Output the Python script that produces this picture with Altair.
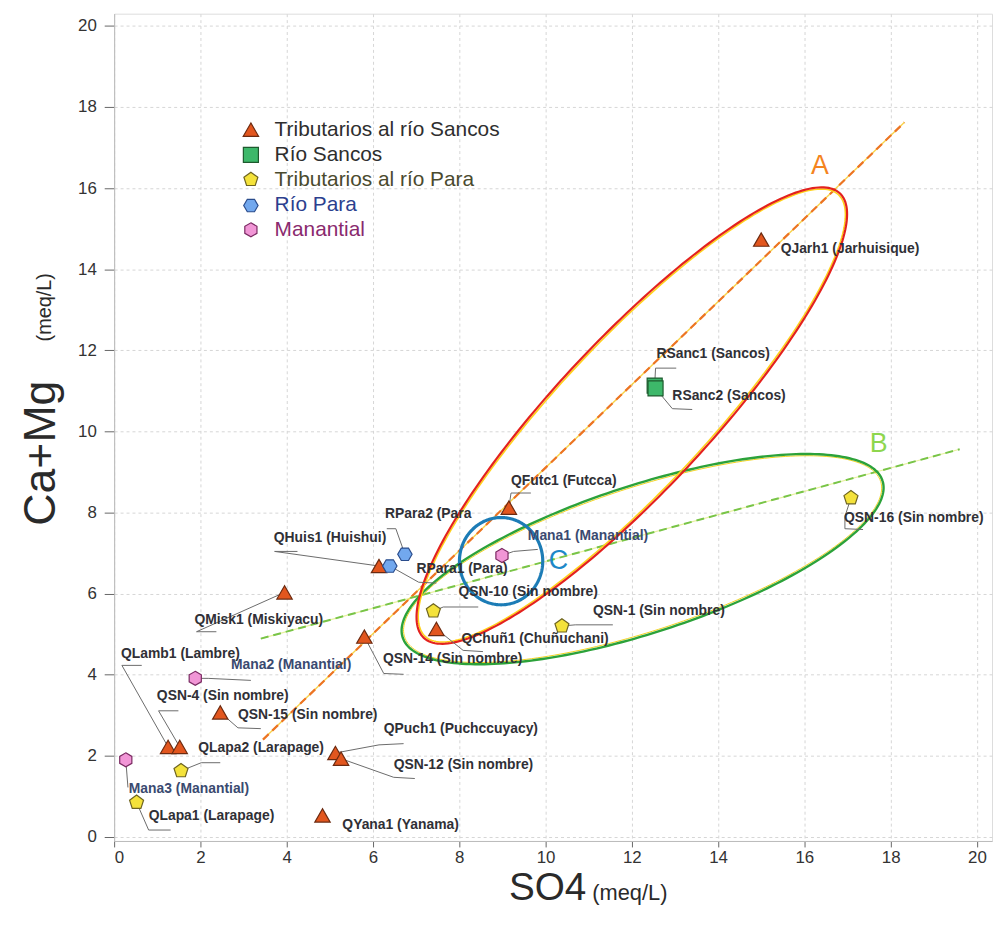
import altair as alt
import numpy as np
import pandas as pd

# ---------------- data ----------------
GROUPS = ["Tributarios al río Sancos", "Río Sancos", "Tributarios al río Para", "Río Para", "Manantial"]

names = ["QJarh1", "QFutc1", "QHuis1", "QMisk1", "QChuñ1", "QSN-14", "QSN-15", "QLamb1", "QSN-4",
         "QPuch1", "QSN-12", "QYana1",
         "RSanc1", "RSanc2",
         "QSN-10", "QSN-1", "QSN-16", "QLapa2", "QLapa1",
         "RPara2", "RPara1",
         "Mana1", "Mana2", "Mana3"]
group_idx = [0] * 12 + [1] * 2 + [2] * 5 + [3] * 2 + [4] * 3
so4 = [15.0, 9.15, 6.14, 3.95, 7.47, 5.80, 2.46, 1.25, 1.52, 5.13, 5.26, 4.83,
       12.53, 12.55,
       7.40, 10.38, 17.08, 1.55, 0.52,
       6.74, 6.39,
       8.99, 1.88, 0.27]
camg = [14.73, 8.12, 6.68, 6.03, 5.13, 4.94, 3.07, 2.22, 2.22, 2.07, 1.93, 0.53,
        11.13, 11.06,
        5.57, 5.20, 8.36, 1.63, 0.85,
        6.97, 6.68,
        6.94, 3.91, 1.90]

label_text = ["QJarh1 (Jarhuisique)", "QFutc1 (Futcca)", "QHuis1 (Huishui)", "QMisk1 (Miskiyacu)",
              "QChuñ1 (Chuñuchani)", "QSN-14 (Sin nombre)", "QSN-15 (Sin nombre)", "QLamb1 (Lambre)",
              "QSN-4 (Sin nombre)", "QPuch1 (Puchccuyacy)", "QSN-12 (Sin nombre)", "QYana1 (Yanama)",
              "RSanc1 (Sancos)", "RSanc2 (Sancos)",
              "QSN-10 (Sin nombre)", "QSN-1 (Sin nombre)", "QSN-16 (Sin nombre)", "QLapa2 (Larapage)",
              "QLapa1 (Larapage)",
              "RPara2 (Para", "RPara1 (Para)",
              "Mana1 (Manantial)", "Mana2 (Manantial)", "Mana3 (Manantial)"]

# ---------------- annotation layout (data units) ----------------
label_x = [15.45, 9.20, 3.70, 1.86, 8.05, 6.23, 2.87, 0.16, 0.99, 6.25, 6.48, 5.29,
           12.57, 12.94,
           7.98, 11.10, 16.92, 1.95, 0.80,
           6.28, 7.01,
           9.59, 2.71, 0.34]
label_y = [14.50, 8.78, 7.38, 5.35, 4.89, 4.38, 3.01, 4.52, 3.47, 2.67, 1.78, 0.29,
           11.91, 10.88,
           6.04, 5.57, 7.87, 2.20, 0.51,
           7.97, 6.60,
           7.41, 4.23, 1.17]

# leader lines: (index of point, list of bend points after the marker)
leaders = [
    (2, [(3.72, 7.04), (4.25, 7.04)]),
    (19, [(6.53, 7.60), (6.32, 7.60)]),
    (20, [(7.06, 6.28), (7.47, 6.26)]),
    (21, [(9.26, 7.04), (9.82, 7.09)]),
    (1, [(9.20, 8.48), (9.66, 8.48)]),
    (3, [(1.91, 5.06), (2.37, 5.06)]),
    (14, [(7.63, 5.67), (8.44, 5.67)]),
    (15, [(10.69, 5.23), (11.56, 5.23)]),
    (4, [(8.09, 4.60), (8.55, 4.57)]),
    (5, [(6.25, 4.03), (6.71, 4.01)]),
    (16, [(16.94, 7.90), (16.94, 7.60), (17.36, 7.58)]),
    (12, [(12.55, 11.56), (13.03, 11.56)]),
    (13, [(12.94, 10.56), (13.40, 10.54)]),
    (7, [(0.18, 4.23), (0.64, 4.23)]),
    (8, [(1.03, 3.11), (1.49, 3.11)]),
    (22, [(2.18, 3.91), (3.17, 3.86)]),
    (6, [(2.87, 2.69), (3.40, 2.67)]),
    (9, [(6.14, 2.27), (6.71, 2.30)]),
    (10, [(6.48, 1.47), (6.97, 1.44)]),
    (17, [(2.02, 1.83), (2.46, 1.83)]),
    (23, [(0.32, 1.22)]),
    (18, [(0.80, 0.17), (1.31, 0.17)]),
]

# trend lines (end points)
lineA = [(3.45, 2.40), (18.32, 17.62)]
lineB = [(3.40, 4.89), (19.60, 9.56)]

# ellipses: center (data), semi-axes (px), rotation (deg)
PX_X, PX_Y = 43.5, 40.9
ellA = (12.00, 10.39, 307, 76.5, 46.9)
ellB = (12.25, 6.85, 254.5, 74.3, 18.1)
ellC = (8.97, 6.80, 42, 44, 0.0)

legend_y = [17.44, 16.82, 16.21, 15.57, 14.97]

# ---------------- styles ----------------
PENT = "M0,-1L0.951,-0.309L0.588,0.809L-0.588,0.809L-0.951,-0.309Z"
HEXF = "M1,0L0.5,0.866L-0.5,0.866L-1,0L-0.5,-0.866L0.5,-0.866Z"
HEXP = "M0,-1L0.866,-0.5L0.866,0.5L0,1L-0.866,0.5L-0.866,-0.5Z"
shape_scale = alt.Scale(domain=GROUPS, range=["triangle-up", "square", PENT, HEXF, HEXP])
fill_scale = alt.Scale(domain=GROUPS, range=["#E2561E", "#3DB86A", "#F4E23A", "#72A8EE", "#F196D6"])
stroke_scale = alt.Scale(domain=GROUPS, range=["#6B2A10", "#1E5A2E", "#6E6420", "#2A4C8C", "#7A2A62"])
size_scale = alt.Scale(domain=GROUPS, range=[240, 200, 360, 390, 470])
legend_colors = ["#2E2E2E", "#2E2E2E", "#4A4A2E", "#2C3F8E", "#8A2A6E"]

FONT = "Liberation Sans"

X_DOM = [0, 20.35]
Y_DOM = [-0.1, 20.3]


def X(field="x"):
    return alt.X(f"{field}:Q", scale=alt.Scale(domain=X_DOM, nice=False, zero=False),
                 axis=alt.Axis(values=list(range(0, 21, 2)), title=None, grid=True,
                               gridDash=[3, 3], gridColor="#d6d6d6", labelFontSize=17,
                               labelFont=FONT, labelColor="#333", tickSize=6, tickColor="#666",
                               labelPadding=3, domainColor="#bbbbbb"))


def Y(field="y"):
    return alt.Y(f"{field}:Q", scale=alt.Scale(domain=Y_DOM, nice=False, zero=False),
                 axis=alt.Axis(values=list(range(0, 21, 2)), title=None, grid=True,
                               gridDash=[3, 3], gridColor="#d6d6d6", labelFontSize=17,
                               labelFont=FONT, labelColor="#333", tickSize=10, tickColor="#666",
                               labelPadding=8, domainColor="#bbbbbb"))


def ellipse_df(e, shrink=0.0):
    cx, cy, a, b, th = e
    t = np.linspace(0, 2 * np.pi, 241)
    th = np.radians(th)
    a, b = a - shrink, b - shrink
    dx = a * np.cos(t) * np.cos(th) - b * np.sin(t) * np.sin(th)
    dy = a * np.cos(t) * np.sin(th) + b * np.sin(t) * np.cos(th)
    return pd.DataFrame({"x": cx + dx / PX_X, "y": cy + dy / PX_Y, "k": np.arange(len(t))})


def ell_layer(e, color, width, shrink=0.0):
    return alt.Chart(ellipse_df(e, shrink)).mark_line(color=color, strokeWidth=width).encode(
        x=X(), y=Y(), order=alt.Order("k:Q"))


def seg_layer(seg, color, width, dash=None, opacity=1.0):
    df = pd.DataFrame({"x": [p[0] for p in seg], "y": [p[1] for p in seg], "k": [0, 1]})
    kw = dict(color=color, strokeWidth=width, opacity=opacity)
    if dash:
        kw["strokeDash"] = dash
    return alt.Chart(df).mark_line(**kw).encode(x=X(), y=Y(), order=alt.Order("k:Q"))


pts = pd.DataFrame({"name": names, "group": [GROUPS[i] for i in group_idx], "x": so4, "y": camg})

lead_rows = []
for lid, (i, bends) in enumerate(leaders):
    path = [(so4[i], camg[i])] + bends
    for k, (px, py) in enumerate(path):
        lead_rows.append({"id": lid, "k": k, "x": px, "y": py})
lead_df = pd.DataFrame(lead_rows)

lab_df = pd.DataFrame({"text": label_text, "x": label_x, "y": label_y,
                       "c": ["#3a4a70" if n.startswith("Mana") else "#303036" for n in names]})

leg_df = pd.DataFrame({"group": GROUPS, "x": [3.17] * 5, "y": legend_y, "tx": [3.72] * 5,
                       "c": legend_colors})

# ---------------- layers ----------------
leaders_layer = alt.Chart(lead_df).mark_line(color="#6a6a6a", strokeWidth=1).encode(
    x=X(), y=Y(), detail="id:N", order=alt.Order("k:Q"))

lines = [
    seg_layer(lineA, "#F6C81E", 1.4, opacity=0.8),
    seg_layer(lineA, "#EC7424", 2.2, dash=[8, 5]),
    seg_layer(lineB, "#D8E860", 1.2, opacity=0.6),
    seg_layer(lineB, "#78C448", 2.0, dash=[8, 5]),
]
ells = [
    ell_layer(ellB, "#F2D21E", 1.0, shrink=2.0),
    ell_layer(ellB, "#2CA23A", 2.4),
    ell_layer(ellA, "#FFD21A", 1.6, shrink=2.0),
    ell_layer(ellA, "#E3221E", 2.2),
    ell_layer(ellC, "#1C7CB6", 3.2),
]

points = alt.Chart(pts).mark_point(filled=True, fillOpacity=1, opacity=1, strokeWidth=1.2).encode(
    x=X(), y=Y(),
    shape=alt.Shape("group:N", scale=shape_scale, legend=None),
    fill=alt.Fill("group:N", scale=fill_scale, legend=None),
    stroke=alt.Stroke("group:N", scale=stroke_scale, legend=None),
    size=alt.Size("group:N", scale=size_scale, legend=None),
)

labels = alt.Chart(lab_df).mark_text(align="left", baseline="middle", font=FONT, fontSize=14,
                                     fontWeight="bold").encode(
    x=X(), y=Y(), text="text:N", color=alt.Color("c:N", scale=None))

leg_pts = alt.Chart(leg_df).mark_point(filled=True, fillOpacity=1, opacity=1, strokeWidth=1.2).encode(
    x=X(), y=Y(),
    shape=alt.Shape("group:N", scale=shape_scale, legend=None),
    fill=alt.Fill("group:N", scale=fill_scale, legend=None),
    stroke=alt.Stroke("group:N", scale=stroke_scale, legend=None),
    size=alt.Size("group:N", scale=size_scale, legend=None),
)
leg_txt = alt.Chart(leg_df).mark_text(align="left", baseline="middle", font=FONT, fontSize=21).encode(
    x=X("tx"), y=Y(), text="group:N", color=alt.Color("c:N", scale=None))

tags_df = pd.DataFrame({"t": ["A", "B", "C"], "x": [16.36, 17.72, 10.30], "y": [16.55, 9.68, 6.80],
                        "c": ["#F4841E", "#8ED64E", "#1E88C8"]})
tags = alt.Chart(tags_df).mark_text(font=FONT, fontSize=27, baseline="middle", align="center").encode(
    x=X(), y=Y(), text="t:N", color=alt.Color("c:N", scale=None))

# axis titles
yt1 = alt.Chart(pd.DataFrame({"t": ["Ca+Mg"]})).mark_text(
    font=FONT, fontSize=45, angle=270, color="#2a2a2a", baseline="middle", align="center").encode(
    text="t:N", x=alt.value(-74), y=alt.value(443))
yt2 = alt.Chart(pd.DataFrame({"t": ["(meq/L)"]})).mark_text(
    font=FONT, fontSize=20, angle=270, color="#2a2a2a", baseline="middle", align="center").encode(
    text="t:N", x=alt.value(-70), y=alt.value(296))
xt1 = alt.Chart(pd.DataFrame({"t": ["SO4"]})).mark_text(
    font=FONT, fontSize=39, color="#2a2a2a", baseline="middle", align="center").encode(
    text="t:N", x=alt.value(437), y=alt.value(882))
xt2 = alt.Chart(pd.DataFrame({"t": ["(meq/L)"]})).mark_text(
    font=FONT, fontSize=22, color="#2a2a2a", baseline="middle", align="left").encode(
    text="t:N", x=alt.value(482), y=alt.value(886))

chart = alt.layer(
    *lines, *ells, leaders_layer, points, labels, leg_pts, leg_txt, tags, yt1, yt2, xt1, xt2
).properties(
    width=885, height=834,
    autosize=alt.AutoSizeParams(type="none"),
    padding={"left": 107, "top": 2, "right": 3, "bottom": 85},
).configure_view(stroke=None).configure(background="white")

chart.save("out.html", embed_options={"renderer": "svg", "actions": False})
